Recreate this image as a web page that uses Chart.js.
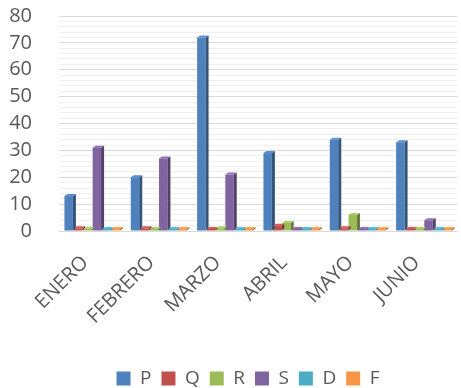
<!DOCTYPE html>
<html>
<head>
<meta charset="utf-8">
<script src="https://cdn.jsdelivr.net/npm/chart.js@4/dist/chart.umd.min.js"></script>
<style>
    html, body { margin: 0; padding: 0; background: #fff; }
    #wrap { width: 461px; height: 388px; }
</style>
</head>
<body>
<div id="wrap"><canvas id="chart"></canvas></div>
<script>
// ===== Data =====
const months = ['ENERO', 'FEBRERO', 'MARZO', 'ABRIL', 'MAYO', 'JUNIO'];
const seriesP = [13, 20, 72, 29, 34, 33];
const seriesQ = [1, 1, 0, 2, 1, 0];
const seriesR = [0, 0, 1, 3, 6, 0];
const seriesS = [31, 27, 21, 0, 0, 4];
const seriesD = [0, 0, 0, 0, 0, 0];
const seriesF = [0, 0, 0, 0, 0, 0];
const yTicks = [0, 10, 20, 30, 40, 50, 60, 70, 80];

const FONT = "'Open Sans', sans-serif";
const GREY = '#595959';

function shade(hex, amt) {
    const n = parseInt(hex.slice(1), 16);
    const c = v => Math.max(0, Math.min(255, Math.round(v)));
    const r = (n >> 16) & 255, g = (n >> 8) & 255, b = n & 255;
    return `rgb(${c(r * amt)},${c(g * amt)},${c(b * amt)})`;
}

// ===== Fake 3D sides on each bar =====
const bar3d = {
    id: 'bar3d',
    afterDatasetsDraw(chart) {
        const ctx = chart.ctx;
        const d = 3;
        chart.data.datasets.forEach((ds, i) => {
            const meta = chart.getDatasetMeta(i);
            meta.data.forEach(bar => {
                const half = bar.width / 2;
                const r = bar.x + half, l = bar.x - half;
                ctx.save();
                ctx.fillStyle = shade(ds.backgroundColor, 0.65);
                ctx.beginPath();
                ctx.moveTo(r, bar.y);
                ctx.lineTo(r + d, bar.y - d + 1);
                ctx.lineTo(r + d, bar.base - d + 1);
                ctx.lineTo(r, bar.base);
                ctx.closePath();
                ctx.fill();
                ctx.fillStyle = shade(ds.backgroundColor, 1.1);
                ctx.beginPath();
                ctx.moveTo(l, bar.y);
                ctx.lineTo(l + d, bar.y - d + 1);
                ctx.lineTo(r + d, bar.y - d + 1);
                ctx.lineTo(r, bar.y);
                ctx.closePath();
                ctx.fill();
                ctx.restore();
            });
        });
    }
};

// legend in the original sits a little left of the plot centre
const legendNudge = {
    id: 'legendNudge',
    afterLayout(chart) {
        chart.legend.left -= 20;
    }
};

function makeSet(label, data, color) {
    return {
        label, data,
        backgroundColor: color,
        borderWidth: 0,
        minBarLength: 2,
        barPercentage: 0.9,
        categoryPercentage: 0.85,
    };
}

new Chart(document.getElementById('chart'), {
    type: 'bar',
    data: {
        labels: months,
        datasets: [
            makeSet('P', seriesP, '#4f81bd'),
            makeSet('Q', seriesQ, '#c0504d'),
            makeSet('R', seriesR, '#9bbb59'),
            makeSet('S', seriesS, '#8064a2'),
            makeSet('D', seriesD, '#4bacc6'),
            makeSet('F', seriesF, '#f79646'),
        ]
    },
    options: {
        responsive: true,
        maintainAspectRatio: false,
        animation: false,
        layout: { padding: { left: 9, right: 4, top: 4, bottom: -10 } },
        plugins: {
            tooltip: { enabled: false },
            legend: {
                position: 'bottom',
                fullSize: false,
                labels: {
                    color: GREY,
                    font: { size: 19, family: FONT },
                    boxWidth: 14,
                    boxHeight: 14,
                    padding: 10,
                }
            }
        },
        scales: {
            x: {
                grid: { display: false },
                border: { display: false },
                afterFit: axis => {
                    axis.height = 128;
                    axis.paddingLeft = 0;
                    axis.paddingRight = 0;
                },
                ticks: {
                    color: GREY,
                    font: { size: 20, family: FONT },
                    minRotation: 45,
                    maxRotation: 45,
                    padding: 12,
                    labelOffset: -7,
                }
            },
            y: {
                min: 0,
                max: 80,
                afterBuildTicks: axis => {
                    const t = [];
                    for (let v = 0; v <= 80; v += 2) t.push({ value: v });
                    axis.ticks = t;
                },
                afterFit: axis => {
                    axis.width = 50;
                    axis.paddingTop = 16;
                    axis.paddingBottom = 0;
                },
                border: { display: false },
                grid: {
                    color: c => (yTicks.includes(c.tick.value) ? '#d9d9d9' : '#f0f0f0'),
                    lineWidth: 1,
                    drawTicks: false,
                },
                ticks: {
                    autoSkip: false,
                    color: GREY,
                    font: { size: 20, family: FONT },
                    padding: 27,
                    callback: v => (yTicks.includes(v) ? v : ''),
                }
            }
        }
    },
    plugins: [bar3d, legendNudge]
});
</script>
</body>
</html>
